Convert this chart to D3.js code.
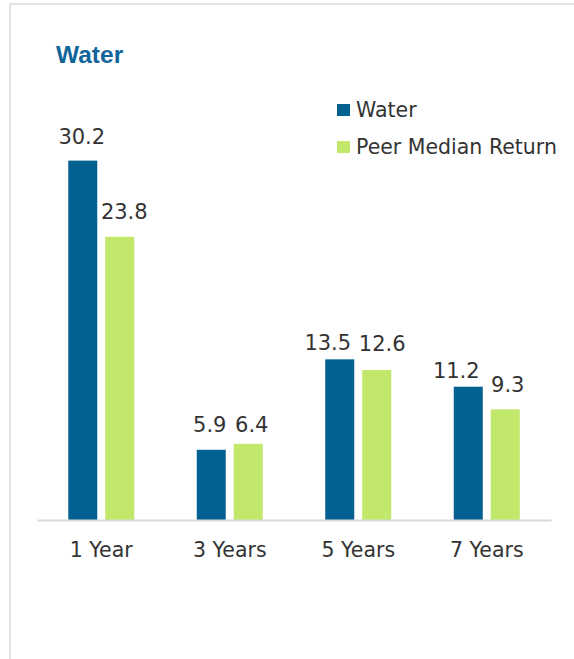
<!DOCTYPE html>
<html>
<head>
<meta charset="utf-8">
<script src="https://cdn.jsdelivr.net/npm/d3@7"></script>
<style>
  html, body { margin: 0; padding: 0; background: #fff; }
  svg { display: block; }
</style>
</head>
<body>
<svg id="chart" width="574" height="659"></svg>
<script>
// Annualised returns by period
const periods = ["1 Year", "3 Years", "5 Years", "7 Years"];
const seriesNames = ["Water", "Peer Median Return"];
const waterReturns = [30.2, 5.9, 13.5, 11.2];
const peerMedianReturns = [23.8, 6.4, 12.6, 9.3];

const colors = { "Water": "#036191", "Peer Median Return": "#c1e86a" };
const textColor = "#333333";
const font = "'DejaVu Sans', sans-serif";

// Label placement tweaks (dx, dy from bar centre / bar top)
const labelNudge = {
  "Water": [[-1, -17], [-1.5, -17.5], [-12, -9], [-12, -9]],
  "Peer Median Return": [[4.5, -17.5], [3.5, -11.5], [5.5, -19], [2.5, -17]]
};

const svg = d3.select("#chart");

// Panel border (top and left edges)
svg.append("line").attr("x1", 10).attr("x2", 574).attr("y1", 4).attr("y2", 4)
  .attr("stroke", "#e3e3e3").attr("stroke-width", 2);
svg.append("line").attr("x1", 10).attr("x2", 10).attr("y1", 3).attr("y2", 659)
  .attr("stroke", "#e3e3e3").attr("stroke-width", 2);

// Title
svg.append("text").attr("x", 56).attr("y", 63)
  .attr("font-family", "'Liberation Sans', Arial, sans-serif")
  .attr("font-weight", "bold").attr("font-size", 24.5)
  .attr("fill", "#10659a").text("Water");

const baseline = 520;
const x = d3.scaleBand().domain(periods).range([37, 551]).paddingInner(0).paddingOuter(0);
const inner = d3.scaleBand().domain(seriesNames).range([-33, 33]).paddingInner(0.2162).paddingOuter(0);
const y = d3.scaleLinear().domain([0, 30.2]).range([baseline, baseline - 30.2 * 11.9]);

const rows = periods.map((p, i) => ({
  period: p,
  values: [
    { name: "Water", value: waterReturns[i], idx: i },
    { name: "Peer Median Return", value: peerMedianReturns[i], idx: i }
  ]
}));

const groups = svg.append("g").selectAll("g").data(rows).join("g")
  .attr("transform", d => `translate(${x(d.period) + x.bandwidth() / 2},0)`);

groups.selectAll("rect").data(d => d.values).join("rect")
  .attr("x", d => inner(d.name))
  .attr("width", inner.bandwidth())
  .attr("y", d => y(d.value))
  .attr("height", d => y(0) - y(d.value))
  .attr("fill", d => colors[d.name]);

groups.selectAll("text.value").data(d => d.values).join("text")
  .attr("class", "value")
  .attr("x", d => inner(d.name) + inner.bandwidth() / 2 + labelNudge[d.name][d.idx][0])
  .attr("y", d => y(d.value) + labelNudge[d.name][d.idx][1])
  .attr("text-anchor", "middle")
  .attr("font-family", font).attr("font-size", 21)
  .attr("fill", textColor)
  .text(d => d.value.toFixed(1));

// Category axis
const axis = svg.append("g").attr("transform", `translate(0,${baseline})`)
  .call(d3.axisBottom(x).tickSize(0).tickPadding(0));
axis.select(".domain").attr("stroke", "#d9d9d9").attr("stroke-width", 2);
axis.selectAll(".tick text")
  .attr("dy", null).attr("y", 37)
  .attr("font-family", font).attr("font-size", 20.5)
  .attr("fill", textColor);

// Legend
const legend = svg.append("g").selectAll("g").data(seriesNames).join("g")
  .attr("transform", (d, i) => `translate(337,${104 + i * 37})`);
legend.append("rect").attr("width", 13).attr("height", 12).attr("fill", d => colors[d]);
legend.append("text").attr("x", 19).attr("y", 12.5)
  .attr("font-family", font).attr("font-size", 20.5)
  .attr("fill", textColor).text(d => d);
</script>
</body>
</html>
